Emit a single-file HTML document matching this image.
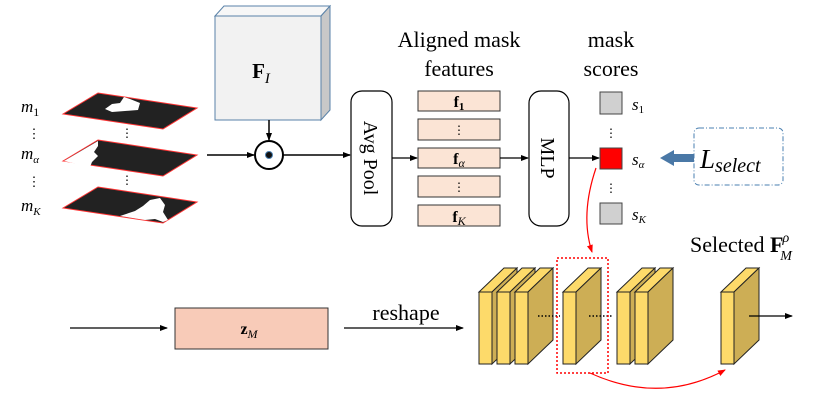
<!DOCTYPE html>
<html><head><meta charset="utf-8"><style>
html,body{margin:0;padding:0;background:#fff;}
svg text{font-family:"Liberation Serif","DejaVu Serif",serif;}
</style></head><body>
<svg width="830" height="401" viewBox="0 0 830 401" xmlns="http://www.w3.org/2000/svg">
<defs>
<marker id="ah" markerWidth="8" markerHeight="8" refX="7" refY="4" orient="auto" markerUnits="userSpaceOnUse"><path d="M0,1 L8,4 L0,7 Z" fill="#000"/></marker>
<marker id="ahr" markerWidth="8" markerHeight="8" refX="7" refY="4" orient="auto" markerUnits="userSpaceOnUse"><path d="M0,1 L8,4 L0,7 Z" fill="#f00"/></marker>
<g id="slab">
<polygon points="0,0 25,-24 38,-24 13,0" fill="#fdda6a" stroke="#222" stroke-width="1"/>
<polygon points="13,0 38,-24 38,48 13,72" fill="#cdae55" stroke="#222" stroke-width="1"/>
<rect x="0" y="0" width="13" height="72" fill="#fdda6a" stroke="#222" stroke-width="1"/>
</g>
</defs>

<!-- masks -->
<g stroke="#f33" stroke-width="1">
<polygon points="63,114 98,93 197,108 163,129" fill="#222"/>
<polygon points="63,161 98,140 197,155 163,176" fill="#222"/>
<polygon points="63,208 98,187 197,202 163,223" fill="#222"/>
</g>
<path d="M105,109 L112,104 L120,103 L124,97 L130,99 L140,103 L138,110 L125,111 L112,112 Z" fill="#fff"/>
<path d="M64,161 L98,141 L98,146 L94,152 L98,156 L92,162 L90,167 Z" fill="#fff"/>
<path d="M120,216 L135,211 L143,206 L150,200 L160,198 L165,205 L163,212 L168,220 L163,222 L155,219 L145,220 Z" fill="#fff"/>
<text x="127" y="137" font-size="12" text-anchor="middle">⋮</text>
<text x="127" y="184" font-size="12" text-anchor="middle">⋮</text>

<g font-size="17" font-style="italic">
<text x="21" y="112">m<tspan font-size="12" dy="4" font-style="normal">1</tspan></text>
<text x="21" y="159">m<tspan font-size="11" dy="4">α</tspan></text>
<text x="21" y="211">m<tspan font-size="11" dy="4">K</tspan></text>
</g>
<text x="34" y="138" font-size="13" text-anchor="middle">⋮</text>
<text x="34" y="186" font-size="13" text-anchor="middle">⋮</text>

<!-- F_I cube -->
<polygon points="215,16 224,6 330,6 321,16" fill="#f7f7f7" stroke="#5a82a8" stroke-width="1"/>
<polygon points="321,16 330,6 330,110 321,120" fill="#c8c8c8" stroke="#5a82a8" stroke-width="1"/>
<rect x="215" y="16" width="106" height="104" fill="#f2f2f2" stroke="#5a82a8" stroke-width="1"/>
<text x="261" y="78" font-size="21" font-weight="bold" text-anchor="middle">F<tspan font-size="15" font-style="italic" font-weight="normal" dy="5">I</tspan></text>

<line x1="269" y1="120" x2="269" y2="140" stroke="#000" stroke-width="1.5" marker-end="url(#ah)"/>
<line x1="207" y1="155" x2="254" y2="155" stroke="#000" stroke-width="1.5" marker-end="url(#ah)"/>
<circle cx="269" cy="155" r="14" fill="#fff" stroke="#000" stroke-width="2"/>
<circle cx="269" cy="155" r="3.5" fill="#111" stroke="#4a7fb0" stroke-width="1"/>
<line x1="283" y1="155" x2="350" y2="155" stroke="#000" stroke-width="1.5" marker-end="url(#ah)"/>

<!-- Avg pool -->
<rect x="351" y="91" width="41" height="135" rx="11" fill="#fff" stroke="#000" stroke-width="1.2"/>
<text transform="translate(364,158) rotate(90)" font-size="20" text-anchor="middle">Avg Pool</text>
<line x1="392" y1="158" x2="417" y2="158" stroke="#000" stroke-width="1.2" marker-end="url(#ah)"/>

<!-- titles -->
<text x="459" y="47" font-size="22" text-anchor="middle">Aligned mask</text>
<text x="459" y="76" font-size="22" text-anchor="middle">features</text>
<text x="611" y="47" font-size="22" text-anchor="middle">mask</text>
<text x="611" y="76" font-size="22" text-anchor="middle">scores</text>

<!-- features -->
<g fill="#fbe4d5" stroke="#333" stroke-width="1">
<rect x="418" y="91" width="82" height="20"/>
<rect x="418" y="119" width="82" height="21"/>
<rect x="418" y="148" width="82" height="20"/>
<rect x="418" y="176" width="82" height="21"/>
<rect x="418" y="205" width="82" height="21"/>
</g>
<g font-size="16" text-anchor="middle" font-weight="bold">
<text x="459" y="107">f<tspan font-size="11" dy="3">1</tspan></text>
<text x="459" y="164">f<tspan font-size="12" font-style="italic" font-weight="normal" dy="3">α</tspan></text>
<text x="459" y="222">f<tspan font-size="12" font-style="italic" font-weight="normal" dy="3">K</tspan></text>
</g>
<text x="459" y="134" font-size="12" text-anchor="middle">⋮</text>
<text x="459" y="191" font-size="12" text-anchor="middle">⋮</text>
<line x1="500" y1="158" x2="528" y2="158" stroke="#000" stroke-width="1.2" marker-end="url(#ah)"/>

<!-- MLP -->
<rect x="529" y="91" width="40" height="135" rx="12" fill="#fff" stroke="#000" stroke-width="1.2"/>
<text transform="translate(541,158) rotate(90)" font-size="20" text-anchor="middle">MLP</text>
<line x1="569" y1="158" x2="599" y2="158" stroke="#000" stroke-width="1.2" marker-end="url(#ah)"/>

<!-- scores -->
<rect x="600" y="92" width="22" height="22" fill="#d0d0d0" stroke="#444"/>
<rect x="600" y="148" width="22" height="21" fill="#f00" stroke="#444"/>
<rect x="600" y="203" width="22" height="21" fill="#d0d0d0" stroke="#444"/>
<text x="611" y="137" font-size="12" text-anchor="middle">⋮</text>
<text x="611" y="192" font-size="12" text-anchor="middle">⋮</text>
<g font-size="17" font-style="italic">
<text x="632" y="110">s<tspan font-size="11" font-style="normal" dy="3">1</tspan></text>
<text x="632" y="165">s<tspan font-size="11" dy="3">α</tspan></text>
<text x="632" y="220">s<tspan font-size="11" dy="3">K</tspan></text>
</g>

<!-- L_select -->
<rect x="694" y="128" width="89" height="57" rx="5" fill="#fff" stroke="#4a7fb0" stroke-width="1" stroke-dasharray="5,2,1,2"/>
<text x="700" y="168" font-size="27" font-style="italic">L<tspan font-size="20" dy="4">select</tspan></text>
<polygon points="694,154 674,154 674,150 660,158 674,166 674,162 694,162" fill="#4a78a6"/>

<!-- red curve top -->
<path d="M596,168 Q580,215 592,252" fill="none" stroke="#f00" stroke-width="1.2" marker-end="url(#ahr)"/>

<!-- bottom -->
<line x1="70" y1="328" x2="167" y2="328" stroke="#000" stroke-width="1.2" marker-end="url(#ah)"/>
<rect x="175" y="308" width="153" height="41" fill="#f8cbb8" stroke="#333"/>
<text x="249" y="334" font-size="16" font-weight="bold" text-anchor="middle">z<tspan font-size="12" font-style="italic" font-weight="normal" dy="4">M</tspan></text>
<text x="406" y="320" font-size="22" text-anchor="middle">reshape</text>
<line x1="344" y1="328" x2="463" y2="328" stroke="#000" stroke-width="1.2" marker-end="url(#ah)"/>

<use href="#slab" x="479" y="292"/>
<use href="#slab" x="497" y="292"/>
<use href="#slab" x="515" y="292"/>
<use href="#slab" x="563" y="292"/>
<use href="#slab" x="617" y="292"/>
<use href="#slab" x="635" y="292"/>
<use href="#slab" x="721" y="292"/>
<line x1="538" y1="316" x2="560" y2="316" stroke="#000" stroke-width="1.5" stroke-dasharray="1.5,2"/>
<line x1="589" y1="316" x2="612" y2="316" stroke="#000" stroke-width="1.5" stroke-dasharray="1.5,2"/>
<rect x="557" y="258" width="51" height="115" fill="none" stroke="#f00" stroke-width="1.5" stroke-dasharray="2,2"/>
<path d="M590,373 Q660,405 725,370" fill="none" stroke="#f00" stroke-width="1.2" marker-end="url(#ahr)"/>
<line x1="749" y1="316" x2="792" y2="316" stroke="#000" stroke-width="1.2" marker-end="url(#ah)"/>

<text x="690" y="252" font-size="22">Selected <tspan font-weight="bold">F</tspan><tspan font-size="14" font-style="italic" dx="-1" dy="-10">ρ</tspan><tspan font-size="14" font-style="italic" dx="-9" dy="18">M</tspan></text>
</svg>
</body></html>
